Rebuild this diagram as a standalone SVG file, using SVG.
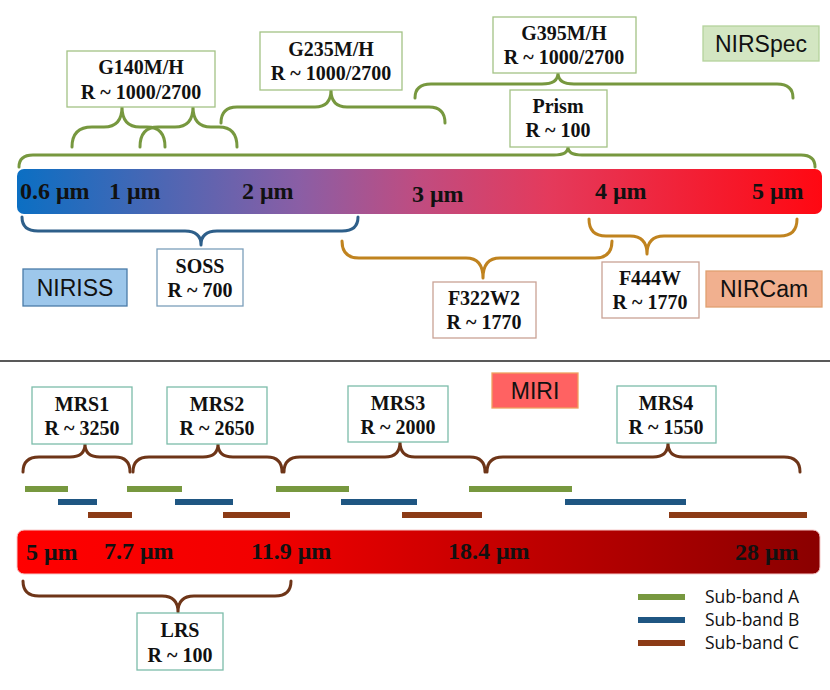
<svg xmlns="http://www.w3.org/2000/svg" width="830" height="690" viewBox="0 0 830 690">
<defs>
<linearGradient id="nirGrad" x1="0" y1="0" x2="1" y2="0">
<stop offset="0" stop-color="#0b6fc3"/>
<stop offset="0.35" stop-color="#8a5ea5"/>
<stop offset="0.5" stop-color="#c04c80"/>
<stop offset="0.66" stop-color="#e43a5c"/>
<stop offset="1" stop-color="#ff0812"/>
</linearGradient>
<linearGradient id="miriGrad" x1="0" y1="0" x2="1" y2="0">
<stop offset="0" stop-color="#ff0000"/>
<stop offset="0.3" stop-color="#f20000"/>
<stop offset="0.55" stop-color="#cc0000"/>
<stop offset="1" stop-color="#8a0000"/>
</linearGradient>
</defs>
<style>
.brace{fill:none;stroke-width:3;stroke-linecap:round;stroke-linejoin:round}
.g{stroke:#77983f}
.bl{stroke:#2e5f8a}
.or{stroke:#c0831f}
.br{stroke:#6e3518}
.box{fill:#ffffff;stroke-width:1.3}
.bg{stroke:#a3c285}
.bb{stroke:#7b9fbb}
.bo{stroke:#c9a294}
.bt{stroke:#7cbcaa}
.t{font-family:"Liberation Serif","Times New Roman",serif;font-weight:bold;font-size:20px;fill:#111;text-anchor:middle}
.w{font-family:"Liberation Serif","Times New Roman",serif;font-weight:bold;font-size:24px;fill:#111}
.lab{font-family:"Liberation Sans",Arial,sans-serif;font-size:23px;fill:#111;text-anchor:middle}
.leg{font-family:"Open Sans","Noto Sans",sans-serif;font-size:17.5px;fill:#111}
.sa{stroke:#77983f;stroke-width:6}
.sb{stroke:#1f5682;stroke-width:6}
.sc{stroke:#8c3b16;stroke-width:6}
</style>

<!-- wavelength bars -->
<g id="nir-bar">
<rect x="17" y="169" width="805" height="45" rx="7" fill="url(#nirGrad)"/>
<text class="w" x="20" y="199">0.6 μm</text>
<text class="w" x="109" y="199">1 μm</text>
<text class="w" x="242" y="199">2 μm</text>
<text class="w" x="412" y="202">3 μm</text>
<text class="w" x="595" y="199">4 μm</text>
<text class="w" x="752" y="199">5 μm</text>
</g>
<g id="miri-bar">
<rect x="17" y="530" width="803" height="44" rx="7" fill="url(#miriGrad)" stroke="#f6c8c8" stroke-width="1"/>
<text class="w" x="26" y="560">5 μm</text>
<text class="w" x="104" y="559">7.7 μm</text>
<text class="w" x="251" y="559">11.9 μm</text>
<text class="w" x="448" y="559">18.4 μm</text>
<text class="w" x="735" y="560">28 μm</text>
</g>

<line id="divider" x1="0" y1="361" x2="830" y2="361" stroke="#222" stroke-width="1.5"/>

<!-- connectors (braces) -->
<g id="connectors">
<path class="brace g" d="M19,167 Q19,155 33,155 L554,155 Q568,155 568,147 Q568,155 582,155 L801,155 Q815,155 815,167"/>
<path class="brace g" d="M415,98 Q415,84 431,84 L542,84 Q558,84 558,73 Q558,84 574,84 L777,84 Q793,84 793,98"/>
<path class="brace g" d="M221,123 Q221,107 237,107 L315,107 Q331,107 331,90 Q331,107 347,107 L429,107 Q445,107 445,123"/>
<path class="brace g" d="M72,147 Q72,127 92,127 L104,127 Q122,127 122,107 Q122,127 140,127 L147,127 Q165,127 165,147"/>
<path class="brace g" d="M140,147 Q140,127 158,127 L175,127 Q193,127 193,107 Q193,127 211,127 L219,127 Q237,127 237,147"/>
<path class="brace bl" d="M22,217 Q22,231 38,231 L185,231 Q201,231 201,245 Q201,231 217,231 L342,231 Q358,231 358,217"/>
<path class="brace or" d="M342,241 Q342,258 359,258 L466,258 Q483,258 483,278 Q483,258 500,258 L595,258 Q612,258 612,241"/>
<path class="brace or" d="M589,219 Q589,236 606,236 L630,236 Q647,236 647,254 Q647,236 664,236 L780,236 Q797,236 797,219"/>
<path class="brace br" d="M23,472 Q23,457 39,457 L70,457 Q85,457 85,444 Q85,457 100,457 L115,457 Q130,457 130,472"/>
<path class="brace br" d="M133,472 Q133,457 149,457 L203,457 Q218,457 218,444 Q218,457 233,457 L267,457 Q282,457 282,472"/>
<path class="brace br" d="M284,472 Q284,457 300,457 L385,457 Q400,457 400,442 Q400,457 415,457 L470,457 Q485,457 485,472"/>
<path class="brace br" d="M487,472 Q487,457 503,457 L653,457 Q668,457 668,443 Q668,457 683,457 L784,457 Q800,457 800,472"/>
<path class="brace br" d="M23,581 Q23,596 39,596 L162,596 Q178,596 178,612 Q178,596 194,596 L275,596 Q291,596 291,581"/>
</g>

<!-- NIRSpec nodes -->
<g id="g140">
<rect class="box bg" x="67" y="51" width="148" height="56"/>
<text class="t" x="141" y="74">G140M/H</text>
<text class="t" x="141" y="99">R ~ 1000/2700</text>
</g>
<g id="g235">
<rect class="box bg" x="260" y="32" width="142" height="58"/>
<text class="t" x="331" y="56">G235M/H</text>
<text class="t" x="331" y="80">R ~ 1000/2700</text>
</g>
<g id="g395">
<rect class="box bg" x="493" y="17" width="143" height="56"/>
<text class="t" x="564" y="40">G395M/H</text>
<text class="t" x="564" y="64">R ~ 1000/2700</text>
</g>
<g id="prism">
<rect class="box bg" x="510" y="90" width="97" height="57"/>
<text class="t" x="558" y="113">Prism</text>
<text class="t" x="558" y="137">R ~ 100</text>
</g>
<g id="nirspec-label">
<rect x="703" y="26" width="116" height="35" fill="#d3e6c2" stroke="#b4d39c" stroke-width="1.3"/>
<text class="lab" x="761" y="52">NIRSpec</text>
</g>

<!-- NIRISS -->
<g id="soss">
<rect class="box bb" x="157" y="249" width="86" height="57"/>
<text class="t" x="200" y="273">SOSS</text>
<text class="t" x="200" y="297">R ~ 700</text>
</g>
<g id="niriss-label">
<rect x="23" y="269" width="104" height="37" fill="#9dc7eb" stroke="#4a7ca8" stroke-width="1.3"/>
<text class="lab" x="75" y="296">NIRISS</text>
</g>

<!-- NIRCam -->
<g id="f322w2">
<rect class="box bo" x="433" y="282" width="103" height="56"/>
<text class="t" x="484" y="305">F322W2</text>
<text class="t" x="484" y="329">R ~ 1770</text>
</g>
<g id="f444w">
<rect class="box bo" x="602" y="262" width="97" height="56"/>
<text class="t" x="650" y="285">F444W</text>
<text class="t" x="650" y="309">R ~ 1770</text>
</g>
<g id="nircam-label">
<rect x="706" y="271" width="116" height="36" fill="#f1b08f" stroke="#e0a070" stroke-width="1.3"/>
<text class="lab" x="764" y="297">NIRCam</text>
</g>

<!-- MIRI -->
<g id="miri-label">
<rect x="492" y="373" width="86" height="35" fill="#ff6262" stroke="#f0a060" stroke-width="1.3"/>
<text class="lab" x="535" y="399">MIRI</text>
</g>
<g id="mrs1">
<rect class="box bt" x="32" y="387" width="100" height="57"/>
<text class="t" x="82" y="411">MRS1</text>
<text class="t" x="82" y="435">R ~ 3250</text>
</g>
<g id="mrs2">
<rect class="box bt" x="167" y="387" width="100" height="57"/>
<text class="t" x="217" y="411">MRS2</text>
<text class="t" x="217" y="435">R ~ 2650</text>
</g>
<g id="mrs3">
<rect class="box bt" x="348" y="386" width="100" height="56"/>
<text class="t" x="398" y="410">MRS3</text>
<text class="t" x="398" y="434">R ~ 2000</text>
</g>
<g id="mrs4">
<rect class="box bt" x="617" y="386" width="99" height="57"/>
<text class="t" x="666" y="410">MRS4</text>
<text class="t" x="666" y="434">R ~ 1550</text>
</g>
<g id="lrs">
<rect class="box bt" x="137" y="613" width="86" height="57"/>
<text class="t" x="180" y="637">LRS</text>
<text class="t" x="180" y="662">R ~ 100</text>
</g>

<!-- sub-bands -->
<g id="subbands">
<line class="sa" x1="25" y1="489" x2="68" y2="489"/>
<line class="sa" x1="127" y1="489" x2="182" y2="489"/>
<line class="sa" x1="276" y1="489" x2="349" y2="489"/>
<line class="sa" x1="469" y1="489" x2="572" y2="489"/>
<line class="sb" x1="58" y1="502" x2="97" y2="502"/>
<line class="sb" x1="175" y1="502" x2="233" y2="502"/>
<line class="sb" x1="341" y1="502" x2="417" y2="502"/>
<line class="sb" x1="565" y1="502" x2="686" y2="502"/>
<line class="sc" x1="88" y1="515" x2="132" y2="515"/>
<line class="sc" x1="223" y1="515" x2="290" y2="515"/>
<line class="sc" x1="402" y1="515" x2="482" y2="515"/>
<line class="sc" x1="669" y1="515" x2="807" y2="515"/>
</g>

<!-- legend -->
<g id="legend">
<line class="sa" x1="638" y1="597" x2="685" y2="597"/>
<line class="sb" x1="638" y1="620" x2="685" y2="620"/>
<line class="sc" x1="638" y1="643" x2="685" y2="643"/>
<text class="leg" x="705" y="603">Sub-band A</text>
<text class="leg" x="705" y="626">Sub-band B</text>
<text class="leg" x="705" y="649">Sub-band C</text>
</g>
</svg>
